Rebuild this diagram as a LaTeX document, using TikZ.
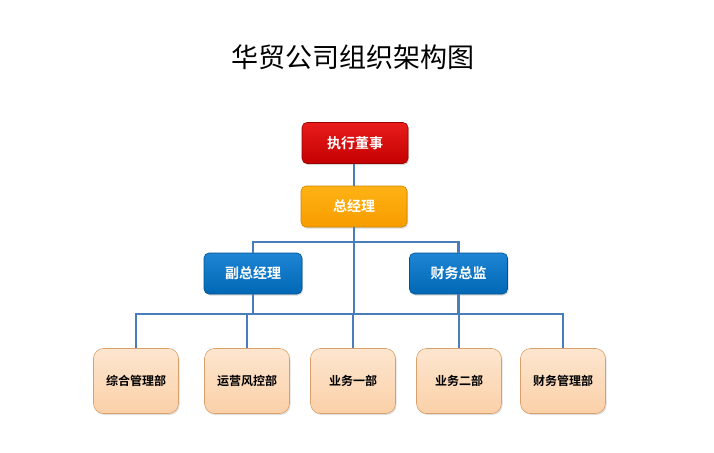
\documentclass[tikz,border=0pt]{standalone}
\usepackage{fontspec}
\setmainfont{Noto Sans CJK SC}[BoldFont={* Bold}]
\usetikzlibrary{shadows}
\definecolor{redT}{HTML}{E81C1C}
\definecolor{redB}{HTML}{C40000}
\definecolor{redD}{HTML}{9A0000}
\definecolor{orT}{HTML}{FFB214}
\definecolor{orB}{HTML}{F79C00}
\definecolor{orD}{HTML}{D08400}
\definecolor{blT}{HTML}{1E84D4}
\definecolor{blB}{HTML}{0068B5}
\definecolor{blD}{HTML}{00528F}
\definecolor{pcT}{HTML}{FDE6CF}
\definecolor{pcB}{HTML}{FBD0A8}
\definecolor{pcD}{HTML}{D9A06A}
\definecolor{lnC}{HTML}{4A7EBB}
\tikzset{
  topbox/.style={rounded corners=5pt, minimum height=41pt, inner sep=0pt,
    font=\bfseries\fontsize{14}{16}\selectfont, text=white, line width=0.6pt,
    drop shadow={opacity=0.3, shadow xshift=1pt, shadow yshift=-1.5pt}},
  redbox/.style={topbox, draw=redD, top color=redT, bottom color=redB, minimum width=106pt},
  orbox/.style={topbox, draw=orD, top color=orT, bottom color=orB, minimum width=106pt},
  blbox/.style={topbox, draw=blD, top color=blT, bottom color=blB, minimum width=98pt},
  deptbox/.style={rounded corners=10pt, minimum width=85pt, minimum height=65pt, inner sep=0pt,
    draw=pcD, line width=0.6pt, top color=pcT, bottom color=pcB,
    font=\bfseries\fontsize{12}{14}\selectfont, text=black,
    drop shadow={opacity=0.25, shadow xshift=1pt, shadow yshift=-1.5pt}},
  conn/.style={draw=lnC, line width=2.2pt}
}
\begin{document}
\begin{tikzpicture}[x=1pt,y=-1pt]
\useasboundingbox (0,0) rectangle (714,452);
\fill[white] (0,0) rectangle (714,452);
\node (title) at (353,57) {\fontsize{27}{31}\selectfont 华贸公司组织架构图};
\coordinate (h1) at (354,242);
\coordinate (h2) at (354,314);
\node[redbox] (ceo) at (355,143) {执行董事};
\node[orbox] (gm) at (354,206.5) {总经理};
\node[blbox] (vgm) at (253,273.5) {副总经理};
\node[blbox] (cfo) at (458.5,273.5) {财务总监};
\node[deptbox] (d1) at (136,381) {综合管理部};
\node[deptbox] (d2) at (247,381) {运营风控部};
\node[deptbox] (d3) at (353,381) {业务一部};
\node[deptbox] (d4) at (459,381) {业务二部};
\node[deptbox] (d5) at (563,381) {财务管理部};
\draw[conn] (ceo.south -| gm.south) -- (gm.north);
\draw[conn] (gm.south) -- (h2);
\draw[conn] (vgm.north) |- (h1) -| (cfo.north);
\draw[conn] (vgm.south) -- (vgm.south |- h2);
\draw[conn] (cfo.south) -- (cfo.south |- h2);
\draw[conn] (d1.north) |- (h2) -| (d5.north);
\draw[conn] (d2.north) -- (d2.north |- h2);
\draw[conn] (d3.north) -- (d3.north |- h2);
\draw[conn] (d4.north) -- (d4.north |- h2);
\end{tikzpicture}
\end{document}
